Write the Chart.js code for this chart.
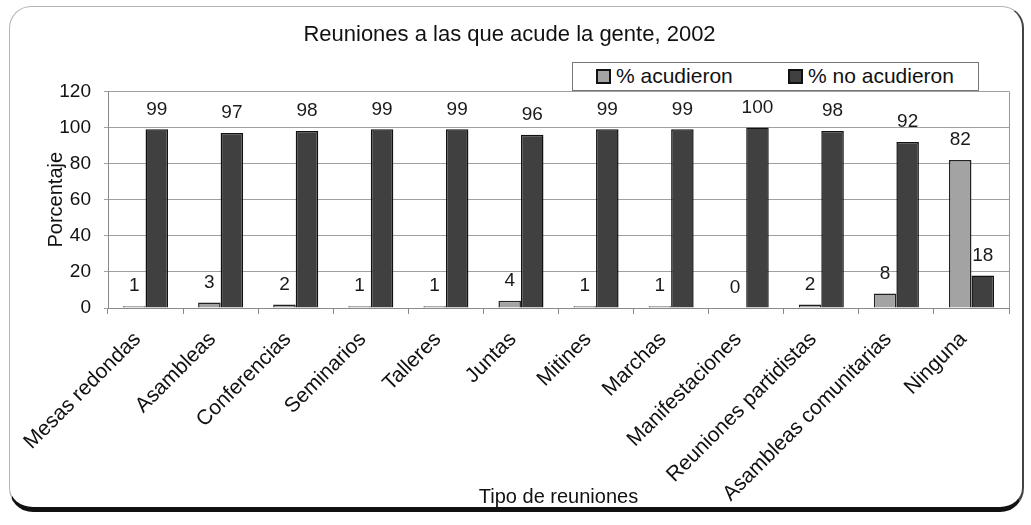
<!DOCTYPE html>
<html>
<head>
<meta charset="utf-8">
<script src="https://cdn.jsdelivr.net/npm/chart.js@4"></script>
<style>
  html, body { margin: 0; padding: 0; background: #fff; width: 1031px; height: 525px; overflow: hidden; }
  #frame {
    position: absolute; left: 9px; top: 6px; width: 1012px; height: 500px;
    border: 1px solid #b5b5b5; border-right: 2px solid #444; border-bottom: 5px solid #111;
    border-radius: 22px 22px 24px 24px;
  }
  canvas { position: absolute; left: 0; top: 0; }
  #legend {
    position: absolute; left: 572px; top: 62px; width: 405px; height: 27px;
    border: 1px solid #777; background: #fff;
    font-family: "Liberation Sans", Arial, sans-serif; font-size: 21px; color: #111;
  }
  .item { position: absolute; top: 0px; white-space: nowrap; line-height: 25px; }
  .sw { display: inline-block; width: 11px; height: 11px; border: 2px solid #111; vertical-align: -1px; margin-right: 5px; }
</style>
</head>
<body>
<div id="frame"></div>
<canvas id="c" width="1031" height="525"></canvas>
<div id="legend"></div>
<script>
const categories = ["Mesas redondas", "Asambleas", "Conferencias", "Seminarios", "Talleres", "Juntas", "Mitines", "Marchas", "Manifestaciones", "Reuniones partidistas", "Asambleas comunitarias", "Ninguna"];
const acudieron = [1, 3, 2, 1, 1, 4, 1, 1, 0, 2, 8, 82];
const noAcudieron = [99, 97, 98, 99, 99, 96, 99, 99, 100, 98, 92, 18];
const seriesNames = ["% acudieron", "% no acudieron"];
const seriesColors = ["#a3a3a3", "#404040"];
const yTicks = [0, 20, 40, 60, 80, 100, 120];
const titleText = "Reuniones a las que acude la gente, 2002";
const yTitle = "Porcentaje";
const xTitle = "Tipo de reuniones";

const FONT = '"Liberation Sans", Arial, sans-serif';

// HTML legend
const legendEl = document.getElementById('legend');
const legendX = [23, 215];
seriesNames.forEach((n, i) => {
  const d = document.createElement('div');
  d.className = 'item';
  d.style.left = legendX[i] + 'px';
  d.innerHTML = '<span class="sw" style="background:' + seriesColors[i] + '"></span>' + n;
  legendEl.appendChild(d);
});

const valueLabels = {
  id: 'valueLabels',
  afterDatasetsDraw(chart) {
    const ctx = chart.ctx;
    ctx.save();
    ctx.font = '19px ' + FONT;
    ctx.fillStyle = '#1a1a1a';
    ctx.textAlign = 'center';
    ctx.textBaseline = 'middle';
    chart.data.datasets.forEach((ds, di) => {
      const meta = chart.getDatasetMeta(di);
      meta.data.forEach((el, i) => {
        ctx.fillText(String(ds.data[i]), el.x, el.y - 20);
      });
    });
    ctx.restore();
  }
};

const areaBorder = {
  id: 'areaBorder',
  beforeDatasetsDraw(chart) {
    const {ctx, chartArea: a} = chart;
    ctx.save();
    ctx.strokeStyle = '#9a9a9a';
    ctx.lineWidth = 1;
    ctx.beginPath();
    ctx.moveTo(a.right + 0.5, a.top);
    ctx.lineTo(a.right + 0.5, a.bottom);
    ctx.stroke();
    ctx.restore();
  }
};

new Chart(document.getElementById('c'), {
  type: 'bar',
  data: {
    labels: categories,
    datasets: [
      { label: seriesNames[0], data: acudieron, backgroundColor: seriesColors[0], borderColor: '#222', borderWidth: 1.5,
        categoryPercentage: 0.6, barPercentage: 1.0 },
      { label: seriesNames[1], data: noAcudieron, backgroundColor: seriesColors[1], borderColor: '#111', borderWidth: 1.5,
        categoryPercentage: 0.6, barPercentage: 1.0 }
    ]
  },
  options: {
    responsive: false,
    devicePixelRatio: 1,
    animation: false,
    layout: { padding: { top: 10, left: 10, right: 22, bottom: 12 } },
    plugins: {
      legend: { display: false },
      tooltip: { enabled: false },
      title: {
        display: true, text: titleText, color: '#111',
        font: { family: FONT, size: 22, weight: 'normal' },
        padding: { top: 12, bottom: 43 }
      }
    },
    scales: {
      x: {
        offset: true,
        grid: { display: true, drawOnChartArea: false, offset: true, tickLength: 6, color: '#888' },
        border: { display: true, color: '#8a8a8a' },
        ticks: { autoSkip: false, minRotation: 45, maxRotation: 45, padding: 13, labelOffset: -8, color: '#111',
                 font: { family: FONT, size: 21 } },
        title: { display: true, text: xTitle, color: '#111', font: { family: FONT, size: 20 }, padding: { top: 0, bottom: 4 } },
        afterFit(scale) { scale.height = 205; }
      },
      y: {
        min: 0, max: 120,
        afterBuildTicks(scale) { scale.ticks = yTicks.map(v => ({ value: v })); },
        grid: { color: '#a0a0a0', tickLength: 4 },
        border: { display: true, color: '#8a8a8a' },
        ticks: { padding: 13, color: '#111', font: { family: FONT, size: 19 } },
        title: { display: true, text: yTitle, color: '#111', font: { family: FONT, size: 20 }, padding: { top: 34, bottom: 0 } },
        afterFit(scale) { scale.width = 98; }
      }
    }
  },
  plugins: [valueLabels, areaBorder]
});
</script>
</body>
</html>
